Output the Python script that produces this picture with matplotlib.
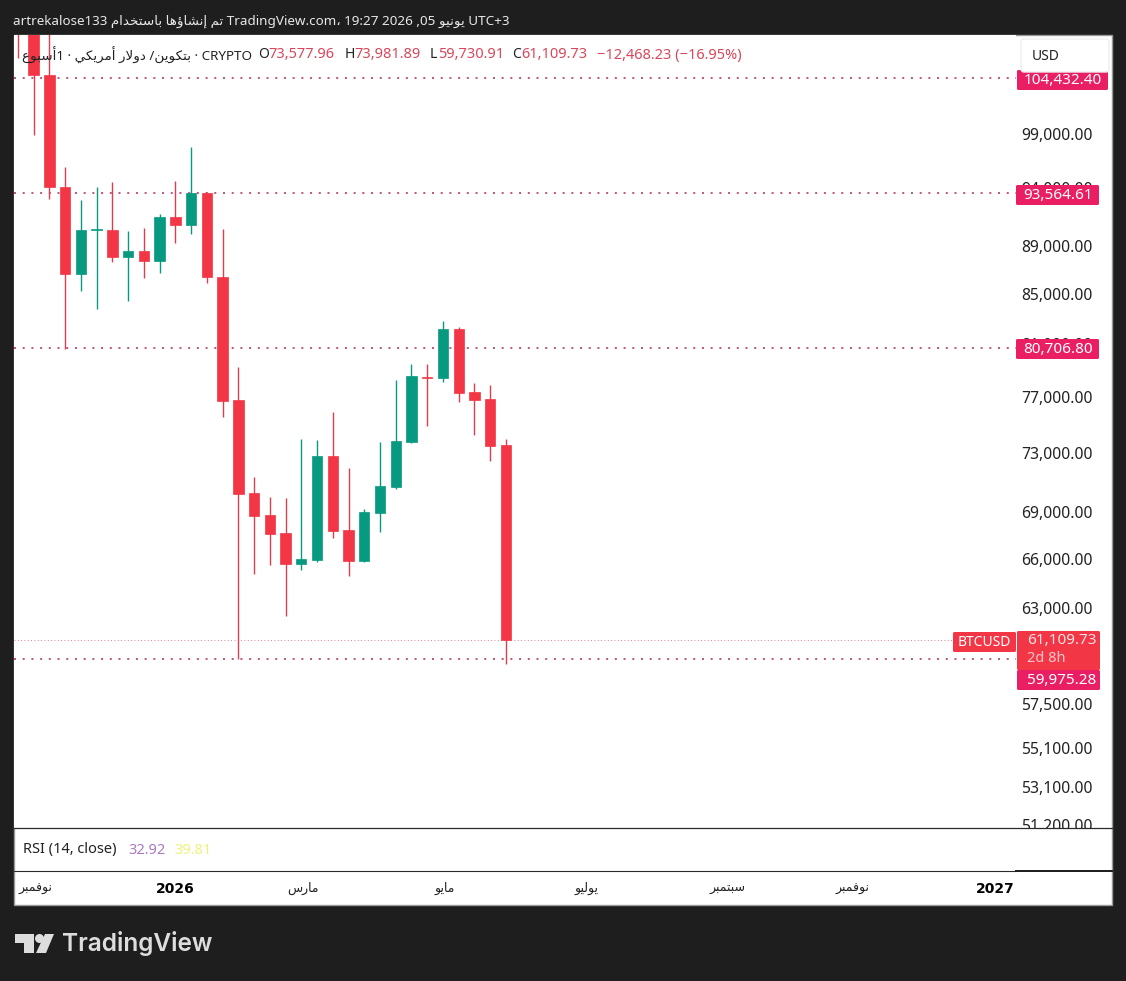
import numpy as np
import matplotlib
matplotlib.use("Agg")
import matplotlib.pyplot as plt
from matplotlib.patches import Rectangle, Polygon, Circle, FancyBboxPatch
from matplotlib.transforms import Bbox

plt.rcParams['font.family'] = ['Noto Sans', 'DejaVu Sans']

# weekly candles
opens = [113000, 111000, 104700, 94150, 86620, 90360, 90360, 88070, 88580, 87730, 91490, 90800,
         93564, 86400, 76780, 70260, 68800, 67630, 65690, 65940, 72790, 67830, 65880, 68930,
         70660, 73770, 78520, 78430, 82180, 77370, 76850, 73577.96]
highs = [115000, 112000, 110000, 95930, 92940, 94120, 94560, 90250, 90540, 91760, 94650, 97760,
         93700, 90450, 79260, 71340, 70050, 69930, 74040, 73910, 75920, 71970, 69200, 73770,
         78260, 79480, 79480, 82820, 82330, 78040, 77900, 73981.89]
lows = [106450, 98900, 93050, 80630, 85260, 83770, 87640, 84420, 86320, 86700, 89250, 90020,
        85880, 75550, 60000, 65060, 65620, 62520, 65310, 65810, 67360, 64940, 65810, 67690,
        70530, 73750, 74900, 78130, 76630, 74260, 72450, 59730.91]
closes = [111000, 104700, 94120, 86620, 90360, 90400, 88070, 88580, 87730, 91490, 90800, 93564,
          86400, 76710, 70190, 68740, 67570, 65690, 66000, 72790, 67760, 65880, 69000, 70730,
          73840, 78570, 78450, 82180, 77300, 76780, 73490, 61109.73]

price_ticks = [99000, 94000, 89000, 85000, 81000, 77000, 73000, 69000, 66000, 63000, 57500, 55100, 53100, 51200]
levels = [104432.40, 93564.61, 80706.80, 59975.28]
last_price = 61109.73

month_pos = [1.14, 10.0, 18.1, 27.1, 36.1, 45.1, 53.0, 62.1]
month_names = ['نوفمبر', '2026', 'مارس', 'مايو', 'يوليو', 'سبتمبر', 'نوفمبر', '2027']

RED = '#F23645'
GREEN = '#089981'
PINK = '#E91E63'
DARK = '#1E1E1E'
W, H = 1126, 981

# matplotlib does not shape arabic, so pick the joined forms and flip to visual order
FORMS = {
    'ا': '\ufe8d\ufe8e', 'أ': '\ufe83\ufe84', 'إ': '\ufe87\ufe88', 'ؤ': '\ufe85\ufe86',
    'د': '\ufea9\ufeaa', 'ر': '\ufead\ufeae', 'و': '\ufeed\ufeee', '\ufefb': '\ufefb\ufefc',
    'ب': '\ufe8f\ufe90\ufe91\ufe92', 'ت': '\ufe95\ufe96\ufe97\ufe98', 'خ': '\ufea5\ufea6\ufea7\ufea8',
    'س': '\ufeb1\ufeb2\ufeb3\ufeb4', 'ش': '\ufeb5\ufeb6\ufeb7\ufeb8', 'ع': '\ufec9\ufeca\ufecb\ufecc',
    'ف': '\ufed1\ufed2\ufed3\ufed4', 'ك': '\ufed9\ufeda\ufedb\ufedc', 'ل': '\ufedd\ufede\ufedf\ufee0',
    'م': '\ufee1\ufee2\ufee3\ufee4', 'ن': '\ufee5\ufee6\ufee7\ufee8', 'ه': '\ufee9\ufeea\ufeeb\ufeec',
    'ي': '\ufef1\ufef2\ufef3\ufef4',
}


def ar(text):
    if text.isdigit():
        return text
    text = text.replace('لا', '\ufefb')
    out = []
    for i, c in enumerate(text):
        if c not in FORMS:
            out.append(c)
            continue
        f = FORMS[c]
        before = i > 0 and len(FORMS.get(text[i - 1], '')) == 4
        after = i + 1 < len(text) and text[i + 1] in FORMS and len(f) == 4
        if before and after:
            out.append(f[3])
        elif before:
            out.append(f[1])
        elif after:
            out.append(f[2])
        else:
            out.append(f[0])
    return ''.join(out[::-1])


fig = plt.figure(figsize=(W / 100, H / 100), dpi=100, facecolor=DARK)


def pane(x0, y0, x1, y1):
    return [x0 / W, 1 - y1 / H, (x1 - x0) / W, (y1 - y0) / H]


def overlay(z):
    o = fig.add_axes([0, 0, 1, 1], zorder=z)
    o.set_xlim(0, W)
    o.set_ylim(H, 0)
    o.axis('off')
    return o


bg = overlay(0)
bg.add_patch(Rectangle((14, 35), 1098, 870, fc='white', ec='#9a9a9a', lw=1))

ax = fig.add_axes(pane(14, 35, 1016, 828), zorder=1, facecolor='white')
ax.set_yscale('log')
idx = np.arange(len(opens))
ops = np.array(opens)
cls = np.array(closes)
colors = [GREEN if c >= o else RED for o, c in zip(ops, cls)]
wick_colors = [GREEN if c >= o else '#DB3F50' for o, c in zip(ops, cls)]
ax.vlines(idx, lows, highs, colors=wick_colors, lw=1, zorder=3)
ax.bar(idx, np.abs(cls - ops), bottom=np.minimum(ops, cls), width=0.66, color=colors,
       edgecolor=colors, lw=0.5, zorder=4)

for lv in levels:
    ax.axhline(lv, color='#B0245F', lw=1.1, ls=(0, (1.3, 4.4)), zorder=2)
ax.plot([-0.25, 59.4], [last_price, last_price], color='#D9566A', lw=0.6, ls=(0, (1, 3)), zorder=2)

ax.set_xlim(-0.25, 63.4)
ax.set_ylim(51060, 108810)
for s in ax.spines.values():
    s.set_visible(False)

ax.yaxis.tick_right()
ax.set_yticks(price_ticks, [f'{p:,.2f}' for p in price_ticks])
ax.minorticks_off()
ax.tick_params(axis='y', length=0, pad=4, labelsize=11.3, labelcolor='#222222')
clip = Bbox([[1016, H - 828], [1112, H - 35]])
for lab in ax.get_yticklabels():
    lab.set_clip_box(clip)
    lab.set_clip_on(True)

ax.set_xticks(month_pos, [ar(m) for m in month_names])
ax.tick_params(axis='x', length=0, pad=39, labelsize=9, labelcolor='#222222')
for lab, name in zip(ax.get_xticklabels(), month_names):
    if name.isdigit():
        lab.set_family(['DejaVu Sans'])
        lab.set_fontweight('bold')
        lab.set_fontsize(10)
        lab.set_color('black')

fg = overlay(2)
# pane separators
fg.plot([14, 1112], [828, 828], color='#2a2a2a', lw=0.9)
fg.plot([14, 1016], [871, 871], color='#2a2a2a', lw=0.8)
fg.plot([1016, 1112], [871, 871], color='#1a1a1a', lw=1.4)


def tag(x0, x1, y0, y1, color, label, tx):
    fg.add_patch(FancyBboxPatch((x0, y0), x1 - x0, y1 - y0, boxstyle='round,pad=0,rounding_size=1.5',
                                fc=color, ec='none'))
    fg.text(tx, (y0 + y1) / 2 + 0.5, label, color='white', fontsize=11, ha='left', va='center')


tag(1017, 1108, 70, 90, PINK, f'{levels[0]:,.2f}', 1024)
tag(1016, 1099, 185, 205, PINK, f'{levels[1]:,.2f}', 1023)
tag(1016, 1099, 339, 359, PINK, f'{levels[2]:,.2f}', 1023)
tag(1017, 1100, 631, 670, RED, '', 1027)
fg.text(1027, 641, f'{last_price:,.2f}', color='#FFE3E6', fontsize=11, va='center')
fg.text(1027, 659, '2d 8h', color='#FFC6CB', fontsize=10.5, va='center')
tag(1017, 1100, 670, 690, PINK, f'{levels[3]:,.2f}', 1027)
tag(953, 1016, 632, 652, RED, 'BTCUSD', 958)
fg.texts[-1].set_fontsize(10)

# USD button sits on top of the clipped 104k tag
fg.add_patch(FancyBboxPatch((1021, 39), 88, 33, boxstyle='round,pad=0,rounding_size=3',
                            fc='white', ec='#EEEEEE', lw=1))
fg.text(1032, 56, 'USD', color='#222222', fontsize=10, va='center')

# header
fg.text(13, 21, 'artrekalose133 ' + ar('تم إنشاؤها باستخدام') + ' TradingView.com، 19:27 2026 ,05 '
        + ar('يونيو') + ' UTC+3', color='#E8E8E8', fontsize=9.7, va='center')

# legend row
legend_label = ar('أسبوع') + '1 · ' + ar('دولار أمريكي') + ' /' + ar('بتكوين') + ' · CRYPTO'
fg.text(22, 55, legend_label, color='#222222', fontsize=9.7, va='center')
for x, s in [(258, 'O'), (345, 'H'), (430, 'L'), (512, 'C')]:
    fg.text(x, 55, s, color='#222222', fontsize=10, va='center')
for x, s in [(268, '73,577.96'), (354, '73,981.89'), (438, '59,730.91'), (521, '61,109.73'),
             (597, '−12,468.23 (−16.95%)')]:
    fg.text(x, 55, s, color='#D8485C', fontsize=10.5, va='center')

# RSI pane title
fg.text(23, 850, 'RSI (14, close)', color='#222222', fontsize=10.5, va='center')
fg.text(128, 850, '32.92', color='#A77BC0', fontsize=10.5, va='center')
fg.text(174, 850, '39.81', color='#EDF279', fontsize=10.5, va='center')

# logo
LOGO = '#DDDDDD'
fg.add_patch(Polygon([(15, 934), (34, 934), (34, 953), (24, 953), (24, 943), (15, 943)], fc=LOGO, ec='none'))
fg.add_patch(Circle((39.5, 938.5), 4.5, fc=LOGO, ec='none'))
fg.add_patch(Polygon([(45, 934), (54, 934), (46, 953), (36, 953)], fc=LOGO, ec='none'))
fg.text(62, 944, 'TradingView', color=LOGO, fontsize=17.6, va='center', fontweight='semibold',
        family=['Inter', 'DejaVu Sans'])

fig.savefig('out.png', dpi=100, facecolor=DARK)
